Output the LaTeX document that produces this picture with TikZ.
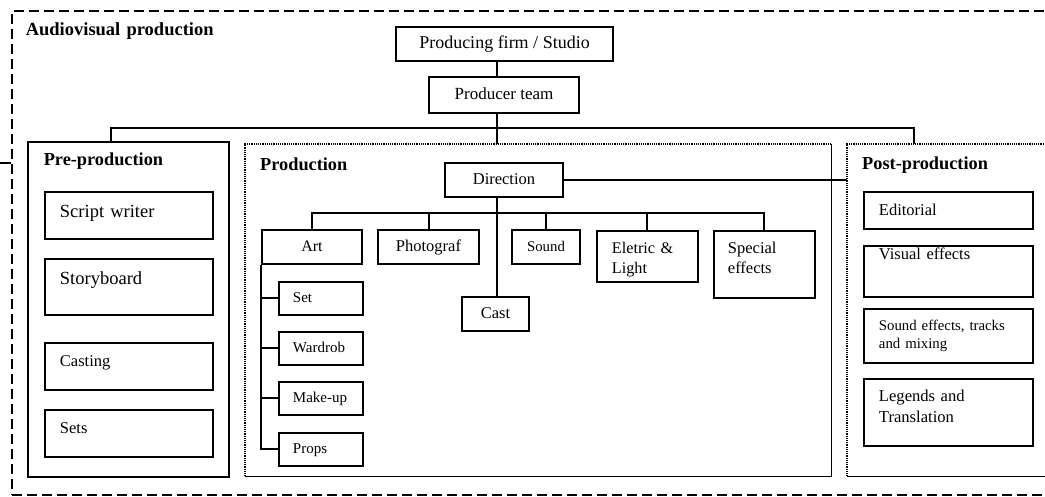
\documentclass[tikz,border=0pt]{standalone}
\usepackage{fontspec}
\setmainfont{Liberation Serif}
\usetikzlibrary{positioning}

\begin{document}
\begin{tikzpicture}[
    x=1pt, y=-1pt,
    link/.style={line width=2pt},
    unit/.style={draw, line width=1.9pt, inner sep=0pt, text height=12pt, text depth=4pt, font=\fontsize{17}{20}\selectfont},
    card/.style={draw, line width=1.9pt, anchor=north west, inner xsep=15pt, inner ysep=0pt, text width=139pt, align=left, font=\fontsize{16.5}{20}\selectfont},
    sub/.style={draw, line width=1.9pt, anchor=north west, inner xsep=14pt, inner ysep=0pt, text width=56pt, align=left, text height=21pt, text depth=12pt, font=\fontsize{15}{18}\selectfont},
    phase/.style={anchor=north west, inner xsep=15pt, inner ysep=0pt, align=left, font=\bfseries\fontsize{18.3}{22}\selectfont}
]
\useasboundingbox (0,0) rectangle (1045,496);
\clip (0,0) rectangle (1045,496);

% Frame
\node[phase, draw, dash pattern=on 10pt off 5pt, line width=1.6pt, inner xsep=14pt, text width=1041pt, text height=25pt, text depth=459pt, font=\bfseries\fontsize{18.5}{22}\selectfont] (av) at (11,10) {Audiovisual production};

% Studio and producers
\node[unit, minimum width=217pt, minimum height=34pt, font=\fontsize{18}{21}\selectfont] (firm) at (504.5,44) {Producing firm / Studio};
\node[unit, minimum width=150pt, minimum height=36pt] (team) at (504,95) {Producer team};

% Phases
\node[phase, draw, line width=1.6pt, inner xsep=16pt, text width=169pt, text height=24pt, text depth=311pt] (pre) at (27,141) {Pre-production};
\node[phase, text width=556pt, text height=26pt, text depth=306pt] (prod) at (245,144) {Production};
\node[phase, text width=183pt, text height=25pt, text depth=307pt] (post) at (847,144) {Post-production};
\draw[densely dotted, line width=1.2pt] (prod.south west) |- (prod.north east);
\draw[line width=1.8pt] (prod.north east) |- (prod.south west);
\draw[densely dotted, line width=1.2pt] (post.south west) |- (post.north east);
\draw[line width=1.8pt] (post.north east) |- (post.south west);

% Pre-production
\node[card, text width=138pt, text height=26pt, text depth=21pt, font=\fontsize{18.5}{22}\selectfont] (script) at (44,191) {Script writer};
\node[card, text width=138pt, text height=26pt, text depth=30pt, font=\fontsize{18.5}{22}\selectfont] (story) at (44,258) {Storyboard};
\node[card, text width=138pt, text height=24pt, text depth=23pt] (casting) at (44,342) {Casting};
\node[card, text width=138pt, text height=24pt, text depth=23pt] (sets) at (44,409) {Sets};

% Production
\node[unit, minimum width=118pt, minimum height=34pt, font=\fontsize{16.5}{20}\selectfont] (dir) at (504,180) {Direction};
\node[unit, minimum width=100pt, minimum height=34pt, font=\fontsize{16}{20}\selectfont] (art) at (312,247) {Art};
\node[unit, minimum width=101pt, minimum height=34pt, font=\fontsize{16.5}{20}\selectfont] (photo) at (428.5,247) {Photograf};
\node[unit, minimum width=68pt, minimum height=34pt, font=\fontsize{14.8}{18}\selectfont] (sound) at (546,247) {Sound};
\node[card, text width=71pt, text height=22.5pt, text depth=28.5pt, font=\fontsize{16.2}{20}\selectfont] (light) at (596,230) {Eletric \&\\Light};
\node[card, inner xsep=14pt, text width=73pt, text height=22.5pt, text depth=44.5pt, font=\fontsize{16.5}{20}\selectfont] (special) at (713,230) {Special\\effects};
\node[unit, minimum width=67pt, minimum height=34pt, font=\fontsize{16.5}{20}\selectfont] (cast) at (495.5,314) {Cast};

\node[sub] (set) at (278,281) {Set};
\node[sub] (wardrob) at (278,331) {Wardrob};
\node[sub] (makeup) at (278,381) {Make-up};
\node[sub] (props) at (278,432) {Props};

% Post-production
\node[card, text height=24pt, text depth=13pt] (editorial) at (863,191) {Editorial};
\node[card, text height=14pt, text depth=37pt] (visual) at (863,245) {Visual effects};
\node[card, text height=22pt, text depth=32pt, font=\fontsize{14.8}{18}\selectfont] (sfx) at (863,308) {Sound effects, tracks\\and mixing};
\node[card, text height=23pt, text depth=44pt, font=\fontsize{16.6}{21}\selectfont] (legends) at (863,378) {Legends and\\Translation};

% Connectors
\coordinate (spine) at (497,0);
\coordinate (barL) at (111,128);
\coordinate (barR) at (914,128);
\coordinate (kidbar) at (497,213);
\coordinate (stub) at (0,163);

\draw[link] (firm.south -| spine) -- (team.north -| spine);
\draw[link] (team.south -| spine) -- (prod.north -| spine);
\draw[link] (barL |- pre.north) -- (barL) -- (barR) -- (barR |- post.north);

\draw[link] (dir.south -| spine) -- (cast.north -| spine);
\draw[link] (art.north) |- (kidbar) -| (special.north);
\foreach \kid in {photo, sound, light}
    \draw[link] (\kid.north) -- (\kid.north |- kidbar);

\draw[link] (art.south west) |- (props.west);
\foreach \kid in {set, wardrob, makeup}
    \draw[link] (\kid.west) -- (\kid.west -| art.south west);

\draw[link] (dir.east) -- (dir.east -| post.west);
\draw[link] (stub) -- (stub -| av.west);

\end{tikzpicture}
\end{document}
